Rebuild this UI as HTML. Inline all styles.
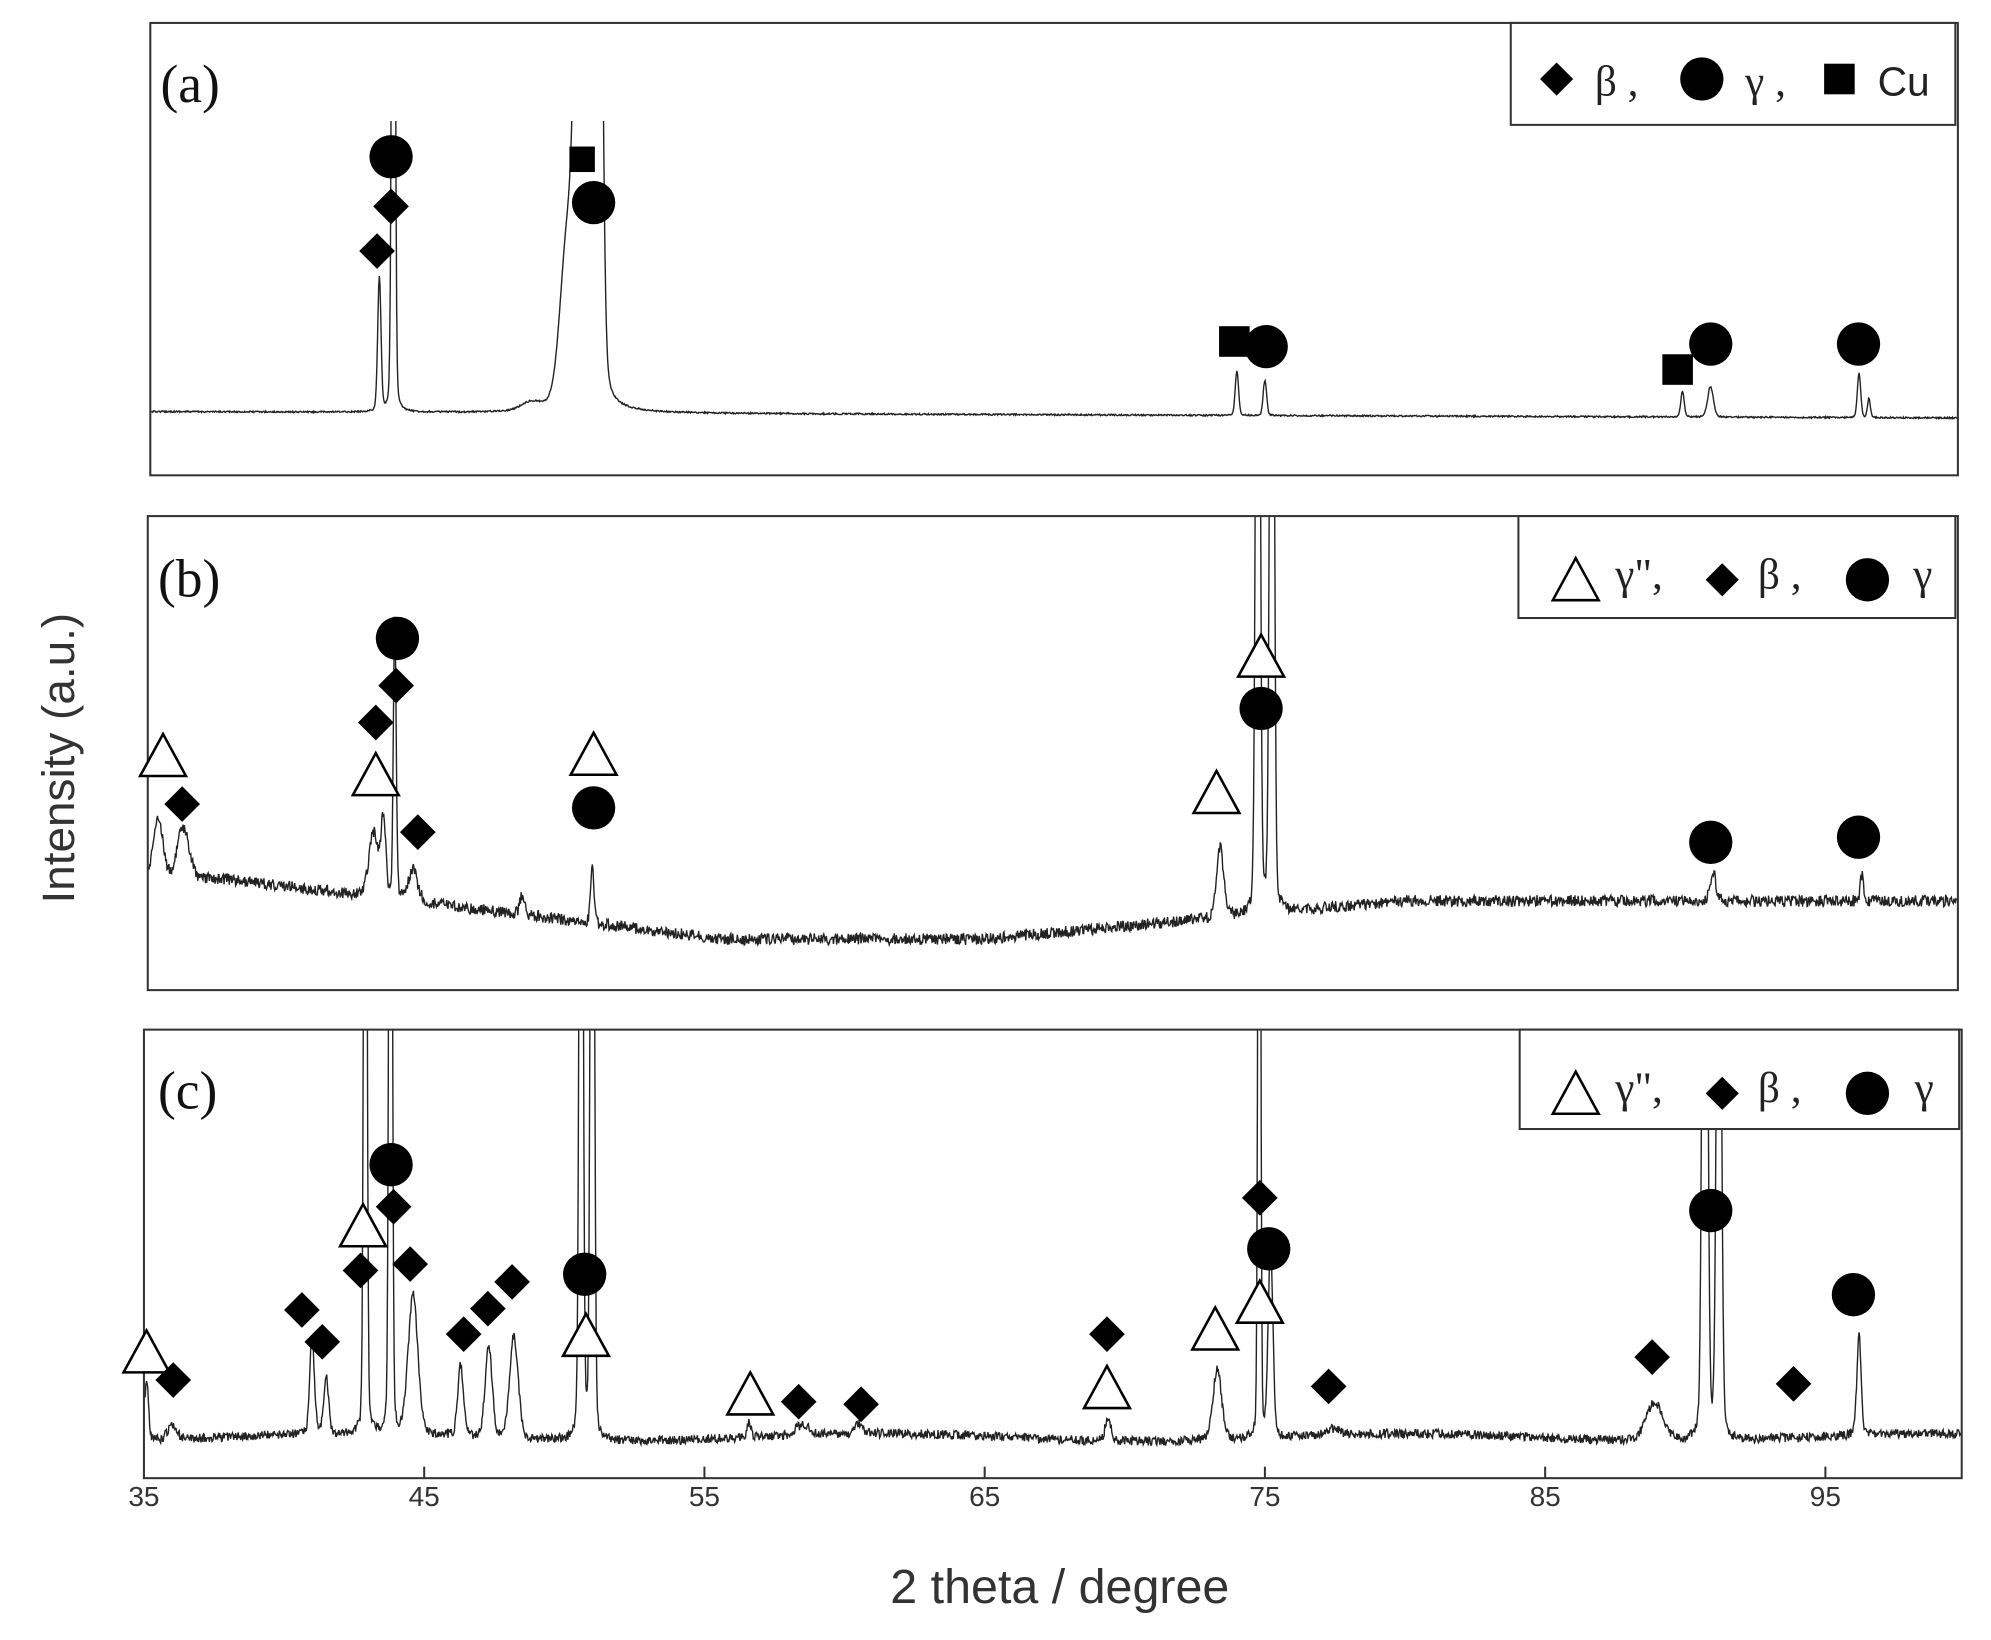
<!DOCTYPE html>
<html><head><meta charset="utf-8"><style>
html,body{margin:0;padding:0;background:#fff;}
svg{display:block;}
</style></head><body>
<svg id="s" width="1991" height="1640" viewBox="0 0 1563 1287" preserveAspectRatio="none" xmlns="http://www.w3.org/2000/svg">
<rect width="1563" height="1287" fill="#fff"/>
<defs>
<clipPath id="ca"><rect x="118" y="95" width="1419" height="278"/></clipPath>
<clipPath id="cb"><rect x="116" y="405" width="1421" height="372"/></clipPath>
<clipPath id="cc"><rect x="113" y="808" width="1427" height="352"/></clipPath>
</defs>
<g id="curves" fill="none" stroke="#222" stroke-width="1.1"></g>
<g fill="none" stroke="#333" stroke-width="1.6">
<rect x="118" y="18" width="1419" height="355"/>
<rect x="116" y="405" width="1421" height="372"/>
<rect x="113" y="808" width="1427" height="352"/>
</g>
<g stroke="#333" stroke-width="1.6">
<line x1="333" y1="1160" x2="333" y2="1151"/><line x1="553" y1="1160" x2="553" y2="1151"/>
<line x1="773" y1="1160" x2="773" y2="1151"/><line x1="993" y1="1160" x2="993" y2="1151"/>
<line x1="1213" y1="1160" x2="1213" y2="1151"/><line x1="1433" y1="1160" x2="1433" y2="1151"/>
</g>
<g font-family="Liberation Sans, sans-serif" font-size="22" fill="#333" text-anchor="middle">
<text x="113" y="1182">35</text><text x="333" y="1182">45</text><text x="553" y="1182">55</text>
<text x="773" y="1182">65</text><text x="993" y="1182">75</text><text x="1213" y="1182">85</text><text x="1433" y="1182">95</text>
</g>
<text x="832" y="1258" font-family="Liberation Sans, sans-serif" font-size="38" fill="#333" text-anchor="middle">2 theta / degree</text>
<text transform="translate(58,595) rotate(-90)" font-family="Liberation Sans, sans-serif" font-size="36" fill="#333" text-anchor="middle">Intensity (a.u.)</text>
<g font-family="Liberation Serif, serif" font-size="42" fill="#111">
<text x="126" y="80">(a)</text><text x="124" y="468">(b)</text><text x="124" y="870">(c)</text>
</g>
<g fill="#fff" stroke="#333" stroke-width="1.6">
<rect x="1186" y="18" width="349" height="80"/>
<rect x="1192" y="405" width="343" height="80"/>
<rect x="1193" y="808" width="345" height="78"/>
</g>
<g id="marks"></g>
<g font-family="Liberation Serif, serif" font-size="34" fill="#222">
<text x="1252" y="75">β ,</text><text x="1370" y="75">γ ,</text>
<text x="1268" y="462">γ",</text><text x="1380" y="462">β ,</text><text x="1502" y="462">γ</text>
<text x="1268" y="865">γ",</text><text x="1380" y="865">β ,</text><text x="1503" y="865">γ</text>
</g>
<text x="1474" y="75" font-family="Liberation Sans, sans-serif" font-size="32" fill="#222">Cu</text>
</svg>
<script>
var NS="http://www.w3.org/2000/svg";
var seed=12345;function rnd(){seed=(seed*16807)%2147483647;return seed/2147483647;}
function X(d){return 113+22*(d-35);}
function peak(d,c,w,h){var t=(d-c)/w;return h*(0.85*Math.exp(-t*t*0.693)+0.15/(1+t*t));}
function curve(clip,x0,base,peaks,noise){
 var p="";
 for(var i=0;i<=2840;i++){
  var d=35+i*65/2840;var x=X(d);if(x<x0)continue;
  var y=base(d);
  for(var k=0;k<peaks.length;k++)y-=peak(d,peaks[k][0],peaks[k][1],peaks[k][2]);
  y+=(rnd()-0.5)*noise;
  p+=(p?"L":"M")+x.toFixed(1)+" "+y.toFixed(1);
 }
 var e=document.createElementNS(NS,"path");e.setAttribute("d",p);e.setAttribute("clip-path","url(#"+clip+")");
 document.getElementById("curves").appendChild(e);
}
curve("ca",119,function(d){return 323+5*(d-35)/65;},[[43.4,0.07,105],[43.9,0.06,900],[48.8,0.4,6],[50.1,0.3,120],[50.7,0.25,900],[51.2,0.15,700],[74.0,0.07,35],[75.0,0.07,28],[89.9,0.07,20],[90.9,0.12,24],[96.2,0.07,35],[96.55,0.06,15]],1.2);
curve("cb",117,function(d){if(d<38)return 690;if(d<55)return 690+45*(d-38)/17;if(d<65)return 737;return 737-30*Math.min(1,(d-65)/15);},[[35.5,0.2,50],[36.4,0.25,40],[43.2,0.2,50],[43.55,0.1,60],[43.95,0.06,220],[44.6,0.2,25],[48.5,0.1,15],[51.0,0.07,45],[73.4,0.15,55],[74.75,0.08,900],[75.25,0.08,900],[91.0,0.12,22],[96.3,0.07,20]],9);
curve("cc",114,function(d){return 1128-3*Math.sin(d/3);},[[35.1,0.08,45],[36.0,0.2,10],[41.0,0.1,75],[41.5,0.1,45],[42.9,0.06,900],[43.8,0.06,900],[44.6,0.2,110],[46.3,0.12,55],[47.3,0.15,70],[48.2,0.18,80],[50.6,0.07,900],[51.0,0.07,900],[56.6,0.08,12],[58.5,0.3,8],[60.5,0.15,8],[69.4,0.12,18],[73.3,0.18,55],[74.8,0.05,900],[75.2,0.1,150],[77.4,0.3,5],[88.9,0.35,30],[90.7,0.09,900],[91.2,0.09,600],[96.2,0.09,80]],7);
var m=document.getElementById("marks");
function add(tag,at){var e=document.createElementNS(NS,tag);for(var k in at)e.setAttribute(k,at[k]);m.appendChild(e);}
function D(x,y,s){s=s||14;add("polygon",{points:(x-s)+","+y+" "+x+","+(y-s)+" "+(x+s)+","+y+" "+x+","+(y+s),fill:"#000"});}
function C(x,y){add("circle",{cx:x,cy:y,r:17,fill:"#000"});}
function S(x,y,s){s=s||12;add("rect",{x:x-s,y:y-s,width:2*s,height:2*s,fill:"#000"});}
function T(x,y){add("polygon",{points:(x-18)+","+(y+16)+" "+x+","+(y-17)+" "+(x+18)+","+(y+16),fill:"#fff",stroke:"#000","stroke-width":"2"});}
[[296,197],[307,162]].forEach(function(a){D(a[0],a[1]);});
[[307,123],[466,159],[994,272],[1343,270],[1459,270]].forEach(function(a){C(a[0],a[1]);});
S(457,125,10);S(969,268);S(1317,290);
[[128,593],[295,608],[466,592],[955,622],[990,515]].forEach(function(a){T(a[0],a[1]);});
[[143,631],[295,567],[311,538],[328,653]].forEach(function(a){D(a[0],a[1]);});
[[312,501],[466,634],[990,556],[1343,661],[1459,657]].forEach(function(a){C(a[0],a[1]);});
[[115,1061],[285,962],[460,1048],[589,1094],[869,1089],[954,1043],[989,1022]].forEach(function(a){T(a[0],a[1]);});
[[136,1083],[237,1028],[253,1053],[283,997],[309,947],[322,992],[364,1047],[383,1027],[402,1006],[627,1100],[676,1102],[869,1047],[989,940],[1043,1088],[1297,1065],[1408,1086]].forEach(function(a){D(a[0],a[1]);});
[[307,914],[459,1000],[996,980],[1343,950],[1455,1016]].forEach(function(a){C(a[0],a[1]);});
D(1222,62,13);C(1336,62);S(1444,62,12);
T(1237,455);D(1352,455,13);C(1466,455);
T(1237,858);D(1352,858,13);C(1466,858);
</script>
</body></html>
